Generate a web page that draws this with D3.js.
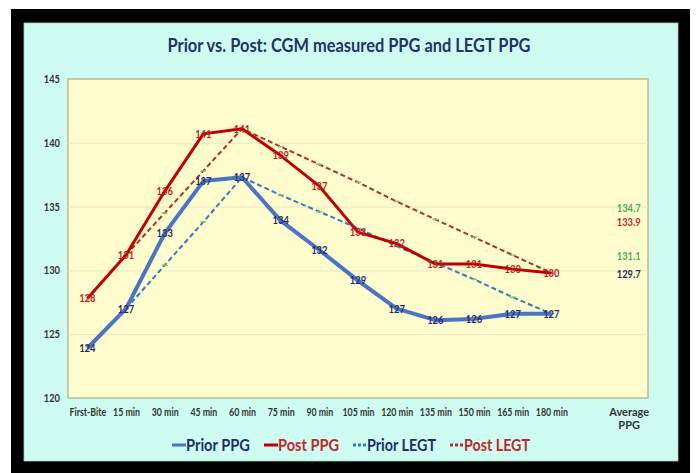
<!DOCTYPE html>
<html>
<head>
<meta charset="utf-8">
<script src="https://cdn.jsdelivr.net/npm/d3@7"></script>
<style>
  body { margin: 0; background: #fff; }
  text { font-family: "Lato", "Liberation Sans", sans-serif; }
</style>
</head>
<body>
<div id="container"></div>
<script>
// categories on the x axis (one empty slot before the average)
const categories = ["First-Bite", "15 min", "30 min", "45 min", "60 min", "75 min", "90 min",
  "105 min", "120 min", "135 min", "150 min", "165 min", "180 min", "gap", "Average PPG"];
const yTicks = [120, 125, 130, 135, 140, 145];

const priorPPG = [123.9, 127.0, 132.9, 137.0, 137.3, 133.9, 131.6, 129.2, 127.0, 126.1, 126.2, 126.6, 126.6];
const postPPG  = [127.8, 131.2, 136.2, 140.7, 141.1, 139.0, 136.6, 133.0, 132.1, 130.5, 130.5, 130.1, 129.8];
// LEGT lines start at 15 min
const priorLEGT = [null, 127.0, 130.4, 133.8, 137.3, 135.9, 134.6, 133.3, 131.9, 130.6, 129.3, 127.9, 126.6];
const postLEGT  = [null, 131.2, 134.5, 137.8, 141.1, 139.7, 138.3, 136.9, 135.4, 134.0, 132.6, 131.2, 129.8];
// averages shown in the last slot
const avgLabels = [
  { v: 134.7, t: "134.7", c: "#4caf50" },
  { v: 133.9, t: "133.9", c: "#c0282d" },
  { v: 131.1, t: "131.1", c: "#4caf50" },
  { v: 129.7, t: "129.7", c: "#1f2d5c" }
];

const W = 698, H = 473;
const svg = d3.select("#container").append("svg").attr("width", W).attr("height", H);

// squeeze text to look like the narrow font of the original
function condense(sel, k) {
  sel.each(function () {
    const len = this.getComputedTextLength();
    if (len > 0) d3.select(this).attr("textLength", len * k).attr("lengthAdjust", "spacingAndGlyphs");
  });
}

// frame
svg.append("rect").attr("x", 11).attr("y", 9).attr("width", 679).attr("height", 464).attr("fill", "#000");
svg.append("rect").attr("x", 24).attr("y", 23).attr("width", 654).attr("height", 438)
  .attr("fill", "#cffcf1").attr("stroke", "#9fcfc4").attr("stroke-width", 0.8);

const pLeft = 68, pRight = 648, pTop = 79, pBottom = 398;

const x = d3.scalePoint().domain(categories).range([pLeft, pRight]).padding(0.5);
const y = d3.scaleLinear().domain([120, 145]).range([pBottom, pTop]);

// plot area
svg.append("rect").attr("x", pLeft).attr("y", pTop).attr("width", pRight - pLeft).attr("height", pBottom - pTop)
  .attr("fill", "#fffccd").attr("stroke", "#bdbb94").attr("stroke-width", 1.5);

// grid
svg.append("g")
  .attr("transform", `translate(${pLeft},0)`)
  .call(d3.axisLeft(y).tickValues(yTicks.slice(1, -1)).tickSize(-(pRight - pLeft)).tickFormat(""))
  .call(g => g.select(".domain").remove())
  .selectAll("line").attr("stroke", "#ebe7c6").attr("stroke-width", 1);

// y axis labels
svg.append("g")
  .attr("transform", `translate(${pLeft},0)`)
  .call(d3.axisLeft(y).tickValues(yTicks).tickSize(0).tickPadding(8))
  .call(g => g.select(".domain").remove())
  .selectAll("text")
    .attr("fill", "#333")
    .style("font-size", "11px")
    .style("font-weight", "bold")
    .call(condense, 0.85);

// x axis labels
const xAxis = svg.append("g")
  .attr("transform", `translate(0,${pBottom})`)
  .call(d3.axisBottom(x).tickSize(0).tickPadding(10).tickFormat(d => d === "gap" ? "" : d));
xAxis.select(".domain").remove();
xAxis.selectAll("text")
  .attr("fill", "#333")
  .style("font-size", "11px")
  .style("font-weight", "bold")
  .each(function (d) {
    if (d === "Average PPG") {
      const t = d3.select(this).text("");
      t.append("tspan").attr("x", 0).attr("dy", "0.71em").text("Average");
      t.append("tspan").attr("x", 0).attr("dy", "1.2em").text("PPG");
    }
  })
  .filter(d => d !== "Average PPG")
  .call(condense, 0.8);

const line = d3.line()
  .defined(d => d != null)
  .x((d, i) => x(categories[i]))
  .y(d => y(d));

// LEGT dashed lines
function dashed(data, color) {
  svg.append("path").datum(data)
    .attr("fill", "none").attr("stroke", color).attr("stroke-width", 2)
    .attr("stroke-dasharray", "5,3")
    .attr("d", line);
  svg.append("g").selectAll("line")
    .data(data.map((v, i) => ({ v, i })).filter(d => d.v != null))
    .enter().append("line")
    .attr("x1", d => x(categories[d.i]) - 3).attr("x2", d => x(categories[d.i]) + 3)
    .attr("y1", d => y(d.v)).attr("y2", d => y(d.v))
    .attr("stroke", "#7cc46a").attr("stroke-width", 1.5);
}
dashed(priorLEGT, "#2f7dc0");
dashed(postLEGT, "#b0302c");

// measured solid lines
svg.append("path").datum(priorPPG)
  .attr("fill", "none").attr("stroke", "#4a74c4").attr("stroke-width", 4)
  .attr("stroke-linejoin", "round").attr("d", line);
svg.append("path").datum(postPPG)
  .attr("fill", "none").attr("stroke", "#c00000").attr("stroke-width", 3)
  .attr("stroke-linejoin", "round").attr("d", line);

// data labels
function labels(data, color) {
  svg.append("g").selectAll("text")
    .data(data)
    .enter().append("text")
    .attr("x", (d, i) => x(categories[i]))
    .attr("y", d => y(d))
    .attr("dy", "0.35em")
    .attr("text-anchor", "middle")
    .attr("fill", color)
    .style("font-size", "11px")
    .style("font-weight", "bold")
    .text(d => Math.round(d))
    .call(condense, 0.85);
}
labels(priorPPG, "#1f2d6c");
labels(postPPG, "#b81e24");

svg.append("g").selectAll("text")
  .data(avgLabels)
  .enter().append("text")
  .attr("x", x("Average PPG"))
  .attr("y", d => y(d.v))
  .attr("dy", (d, i) => i === 0 ? "0.15em" : i === 1 ? "0.5em" : "0.35em")
  .attr("text-anchor", "middle")
  .attr("fill", d => d.c)
  .style("font-size", "11px")
  .style("font-weight", "bold")
  .text(d => d.t)
  .call(condense, 0.85);

// title
svg.append("text")
  .attr("x", 349).attr("y", 52)
  .attr("text-anchor", "middle")
  .attr("fill", "#1f3468")
  .style("font-size", "19px")
  .style("font-weight", "bold")
  .attr("textLength", 363).attr("lengthAdjust", "spacingAndGlyphs")
  .text("Prior vs. Post: CGM measured PPG and LEGT PPG");

// legend
const legend = [
  { name: "Prior PPG", x: 172, stroke: "#4a74c4", dash: null, text: "#1f2d6c", w: 64 },
  { name: "Post PPG", x: 264, stroke: "#c00000", dash: null, text: "#c0282d", w: 61 },
  { name: "Prior LEGT", x: 353, stroke: "#2f7dc0", dash: "3,2", text: "#1f2d6c", w: 69 },
  { name: "Post LEGT", x: 450, stroke: "#b0302c", dash: "3,2", text: "#c0282d", w: 66 }
];
const lg = svg.append("g").selectAll("g").data(legend).enter().append("g");
lg.append("line")
  .attr("x1", d => d.x).attr("x2", d => d.x + 14)
  .attr("y1", 445).attr("y2", 445)
  .attr("stroke", d => d.stroke).attr("stroke-width", 3)
  .attr("stroke-dasharray", d => d.dash);
lg.append("text")
  .attr("x", d => d.x + 14).attr("y", 451)
  .attr("fill", d => d.text)
  .style("font-size", "17px")
  .style("font-weight", "bold")
  .attr("textLength", d => d.w).attr("lengthAdjust", "spacingAndGlyphs")
  .text(d => d.name);
</script>
</body>
</html>
